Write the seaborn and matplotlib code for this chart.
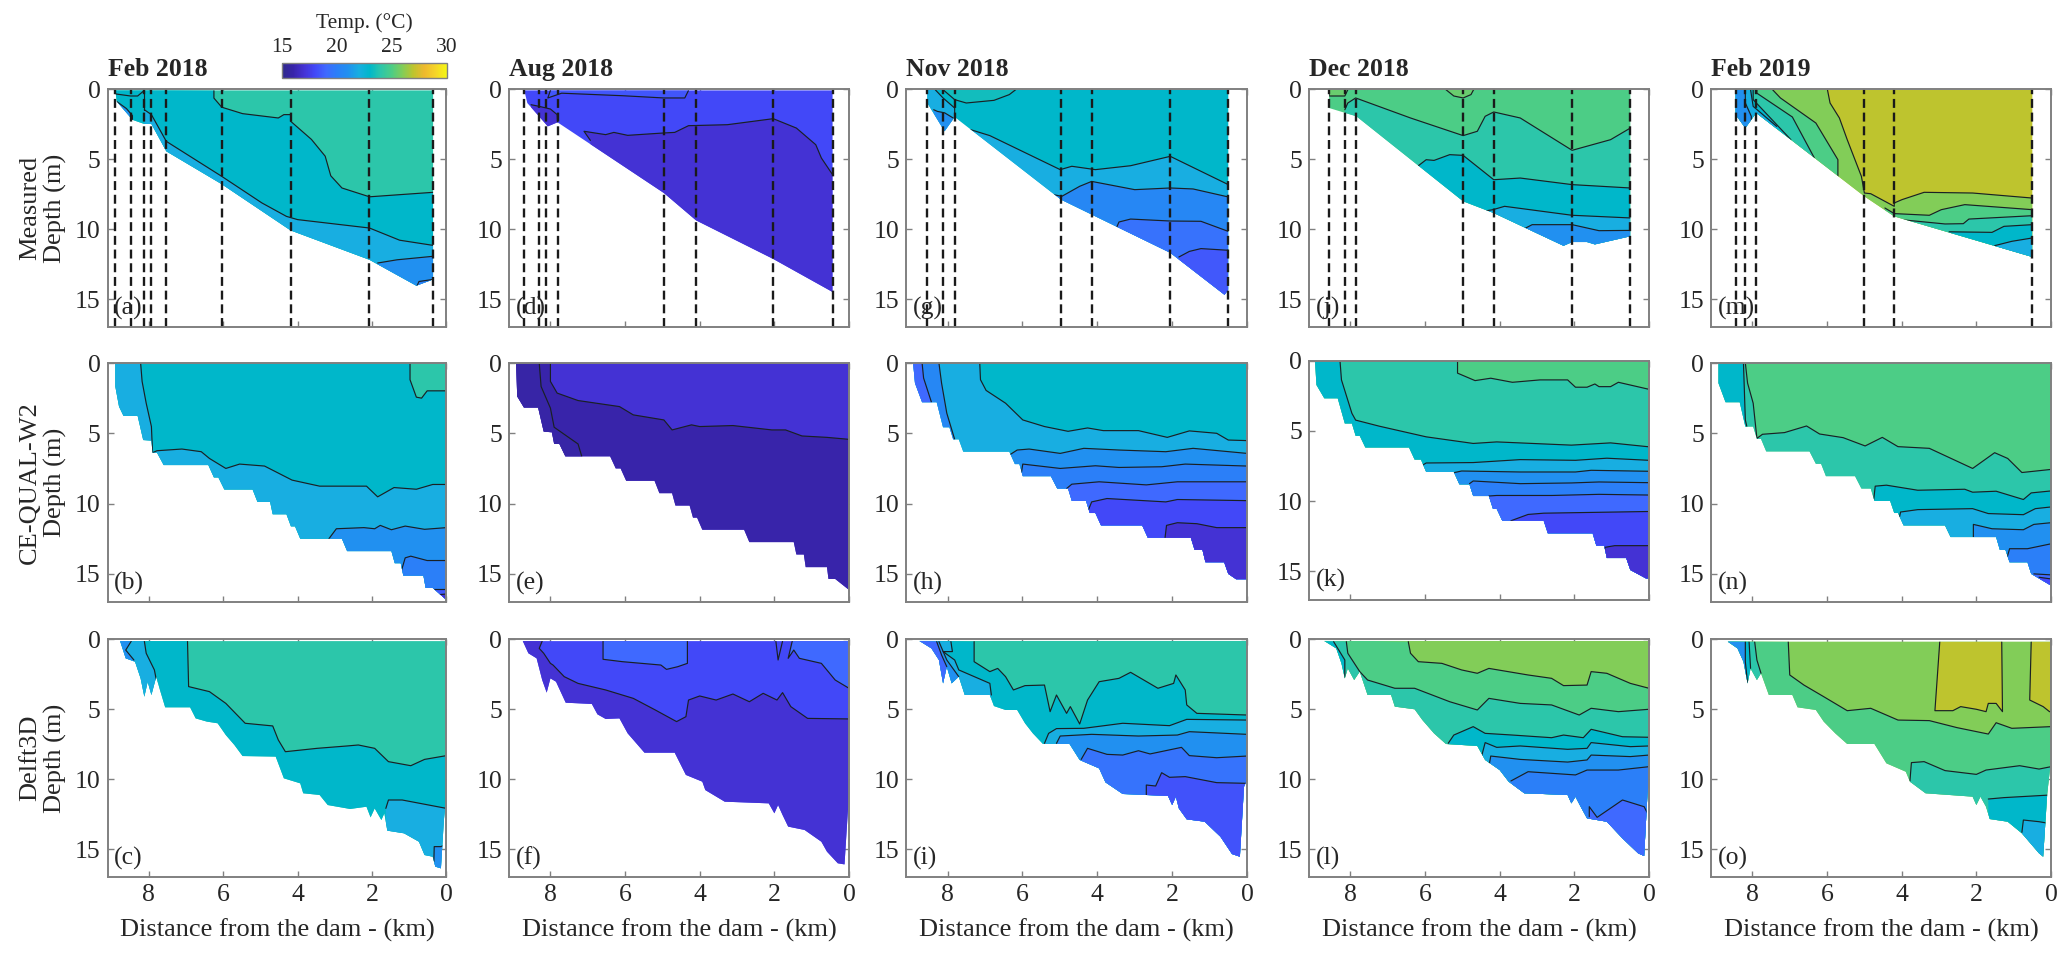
import matplotlib
matplotlib.use('Agg')
import matplotlib.pyplot as plt
import matplotlib.patches as mpatches
import matplotlib.colors as colors
from matplotlib.cm import ScalarMappable
import seaborn as sns

DATES = ['Feb 2018', 'Aug 2018', 'Nov 2018', 'Dec 2018', 'Feb 2019']
MODELS = ['Measured\nDepth (m)', 'CE-QUAL-W2\nDepth (m)', 'Delft3D\nDepth (m)']
LETTERS = ['a', 'b', 'c', 'd', 'e', 'f', 'g', 'h', 'i', 'j', 'k', 'l', 'm', 'n', 'o']
X_TICKS = [8, 6, 4, 2, 0]
Y_TICKS = [0, 5, 10, 15]
CBAR_TICKS = [15, 20, 25, 30]

# colour table of the temperature scale
CMAP_T = [15, 16, 17, 18, 19, 20, 21, 22, 23, 24, 25, 26, 27, 28, 29, 30]
CMAP_C = ['#2f2a8c', '#3824aa', '#4432d4', '#4248f8', '#3f69ff', '#2b7ff8', '#2190f0', '#18aee1',
          '#00b7ca', '#2cc6aa', '#4ccd86', '#82cd58', '#bec42e', '#eeb92e', '#f5d428', '#f5f515']

# sampling stations of the measured sections (km)
ST_A = [8.9, 8.49, 8.12, 7.93, 7.53, 6.04, 4.19, 2.07, 0.36]
ST_D = [8.7, 8.3, 8.12, 7.81, 4.96, 4.1, 2.03, 0.44]
ST_G = [8.54, 8.12, 7.81, 4.97, 4.15, 2.05, 0.5]
ST_J = [8.57, 8.15, 7.84, 4.98, 4.16, 2.06, 0.5]
ST_M = [8.45, 8.19, 7.9, 5.0, 4.2, 0.5]

# bed profile (km, m) and isotherms (temp, [(km, m), ...]) of each panel
BED_A = [(8.9,.1),(8.86,.9),(8.44,2.2),(8.12,2.5),(7.93,2.5),(7.53,4.45),(6.04,6.8),(4.19,10.1),(2.07,12.2),(.81,14.05),(.36,13.6)]
BASE_A = 24
ZONES_A = [
    (23, [(6.25,.1),(6.25,.65),(6.04,1.3),(5.48,1.76),(4.52,2.07),(4.37,1.83),(4.19,1.83),(4.19,2.3),(3.63,3.6),(3.26,4.8),(3.11,6.2),(2.81,7.07),(2.07,7.7),(.36,7.38)]),
    (22, [(8.12,1.48),(7.93,1.83),(7.53,3.74),(6.04,6.24),(4.96,8.14),(4.3,9.1),(4,9.33),(2.07,9.93),(1.26,10.8),(.36,11.17)]),
    (None, [(8.12,.1),(8.12,1.48)]),
    (None, [(8.9,.35),(8.49,.5),(8.3,.5),(8.12,.1)]),
    (21, [(8.86,.9),(8.6,1.4),(8.44,1.9),(8.44,2.2)]),
    (21, [(1.85,12.43),(1.33,12.2),(.36,11.95)]),
    (20, [(.79,14.05),(.74,13.75),(.36,13.6)]),
]

BED_B = [(8.9,0),(8.9,1.67),(8.8,3.1),(8.68,3.76),(8.3,3.76),(8.15,5.48),(7.93,5.52),(7.9,6.38),(7.78,6.38),(7.6,7.26),(6.4,7.26),(6.25,8.14),(6.13,8.14),(5.97,9),(5.21,9),(5.08,9.88),(4.74,9.88),(4.67,10.76),(4.3,10.76),(4.18,11.62),(4.07,11.62),(3.93,12.5),(2.81,12.5),(2.67,13.38),(1.48,13.38),(1.39,14.24),(1.23,14.24),(1.16,15.12),(.62,15.12),(.56,16),(.37,16),(0,16.86)]
BASE_B = 24
ZONES_B = [
    (23, [(.98,0),(.98,1.19),(.81,2.43),(.67,2.5),(.52,1.98),(0,1.98)]),
    (22, [(8.22,0),(8.18,1.31),(8.07,2.86),(7.93,4.52),(7.9,6.38),(7.78,6.24),(7.11,6.12),(6.59,6.31),(6.37,6.79),(5.93,7.5),(5.56,7.19),(4.89,7.33),(4.15,8.33),(3.41,8.76),(2.15,8.76),(1.85,9.52),(1.41,8.86),(.81,8.98),(.37,8.64),(0,8.64)]),
    (21, [(3.16,12.5),(2.96,11.79),(2.22,11.71),(1.93,11.79),(1.78,11.55),(1.48,11.86),(1.11,11.6),(.59,11.83),(0,11.71)]),
    (20, [(1.21,14.76),(1.11,13.86),(.96,13.74),(.52,14.05),(0,14.05)]),
    (18.5, [(.41,16.07),(0,16.07)]),
    (17, [(.22,16.48),(0,16.43)]),
]

BED_C = [(8.77,.15),(8.62,1.38),(8.37,1.62),(8.22,2.81),(8.12,4.12),(8.03,3.05),(7.93,4),(7.8,2.69),(7.7,3.64),(7.56,4.88),(6.89,4.88),(6.74,5.67),(6.44,5.9),(6.15,6.02),(5.93,6.86),(5.7,7.57),(5.48,8.36),(4.59,8.4),(4.37,9.95),(3.93,10.31),(3.85,11.02),(3.41,11.14),(3.19,11.86),(2.59,12.14),(2.15,11.98),(2.04,12.74),(1.93,12.1),(1.75,12.93),(1.67,12.45),(1.59,13.69),(1.14,13.88),(.74,14.48),(.59,15.43),(.37,15.55),(.3,16.26),(.15,16.38),(.07,12.93),(0,11.02)]
BASE_C = 24
ZONES_C = [
    (23, [(6.96,.15),(6.93,3.4),(6.37,3.76),(5.93,4.6),(5.41,6.02),(4.67,6.21),(4.52,7.21),(4.33,8.05),(3.48,7.81),(2.67,7.64),(2.37,7.57),(1.93,7.81),(1.56,8.76),(.96,9.05),(.59,8.6),(0,8.33)]),
    (22, [(8.12,.15),(8.07,1.02),(7.85,2.21),(7.78,3.17)]),
    (22, [(1.63,12.1),(1.56,11.5),(1.19,11.5),(0,12.1)]),
    (21, [(8.47,.15),(8.62,.79),(8.4,1.5)]),
    (21, [(.34,15.9),(.33,14.83),(.15,14.83),(0,14.64)]),
]

BED_D = [(8.7,.1),(8.62,1),(8.07,2.67),(7.81,2.38),(4.96,7.43),(4.1,9.38),(2.03,12.14),(.44,14.5)]
BASE_D = 18
ZONES_D = [
    (18.4, [(8,.1),(8.07,.64),(7.7,.3),(6.07,.48),(4.96,.64),(4.4,.64),(4.3,.1)]),
    (17, [(6.93,3.67),(7.1,3.02),(6.52,3.26),(6.3,3.1),(5.93,3.31),(4.96,3.14),(4.67,3.1),(4.3,2.62),(3.26,2.55),(2.03,2.12),(1.41,2.79),(.89,3.98),(.74,4.93),(.44,6.12)]),
    (17, [(8.52,1.12),(8.3,1.24),(8,1.43),(7.82,1.83),(7.81,2.38)]),
]

BED_E = [(8.92,0),(8.89,2.38),(8.71,3.17),(8.33,3.17),(8.18,4.88),(7.96,4.93),(7.9,5.76),(7.76,5.76),(7.6,6.64),(6.4,6.64),(6.25,7.5),(6.12,7.5),(5.97,8.38),(5.21,8.38),(5.08,9.26),(4.74,9.26),(4.65,10.14),(4.27,10.14),(4.18,11),(4.07,11),(3.93,11.86),(2.81,11.86),(2.67,12.74),(1.48,12.74),(1.41,13.62),(1.21,13.62),(1.16,14.52),(.59,14.52),(.55,15.36),(.37,15.36),(0,16.14)]
BASE_E = 17
ZONES_E = [
    (16, [(8,0),(8,1.31),(7.82,2.14),(7.26,2.67),(6.15,3.1),(5.78,3.69),(4.96,4.05),(4.74,4.76),(4.22,4.4),(4,4.52),(3.11,4.45),(2.07,4.76),(1.7,4.76),(1.26,5.19),(.59,5.29),(0,5.43)]),
    (15.9, [(8.3,0),(8.25,1.67),(8,3.21),(7.9,4.57),(7.26,5.76),(7.16,6.64)]),
]

BED_F = [(8.74,.15),(8.59,1.02),(8.37,1.38),(8.22,2.93),(8.1,3.83),(8,2.81),(7.85,3.05),(7.59,4.55),(6.89,4.64),(6.74,5.38),(6.52,5.71),(6.15,5.67),(5.93,6.74),(5.48,8.12),(4.67,8.12),(4.37,9.71),(3.93,10.19),(3.85,10.79),(3.33,11.62),(2.15,11.74),(2,12.45),(1.9,11.86),(1.78,12.57),(1.63,13.4),(1.19,13.64),(.74,14.48),(.59,15.19),(.3,16.02),(.12,16.1),(0,11.02)]
BASE_F = 18
ZONES_F = [
    (19, [(6.59,.15),(6.59,1.45),(6.07,1.62),(5.04,1.86),(4.89,2.17),(4.59,1.98),(4.33,1.74),(4.33,.15)]),
    (19, [(1.52,.15),(1.63,1.38),(1.48,.79),(1.33,1.38),(.74,1.74),(.37,2.93),(0,3.52),(0,.15)]),
    (None, [(1.96,.15),(1.9,1.5),(1.78,.15)]),
    (17, [(8.22,.15),(8.3,.67),(8.18,1.02),(8,1.74),(7.93,1.86),(7.63,2.69),(7.26,3.17),(6.52,3.64),(5.78,4.24),(5.19,5.07),(4.62,5.9),(4.37,5.55),(4.3,4.36),(4,4.07),(3.56,4.36),(3.11,3.93),(2.67,4.48),(2.3,3.88),(1.93,4.36),(1.78,3.83),(1.56,4.83),(1.11,5.67),(0,5.71)]),
]

BED_G = [(8.54,.05),(8.54,1),(8.08,3.02),(7.81,2),(4.97,7.9),(2.05,11.7),(.6,14.7),(.5,14.33)]
BASE_G = 23
ZONES_G = [
    (23.4, [(8.12,.05),(7.81,.76),(7.5,1),(6.76,.81),(6.35,.4),(6.18,.05)]),
    (22, [(8.33,.05),(8.12,.64),(7.81,1.36),(7.81,2)]),
    (21, [(8.37,1.48),(8.27,1.6),(8.08,1.7),(7.85,2.07)]),
    (22, [(7.39,2.9),(6.87,3.33),(4.99,5.76),(4.68,5.52),(4.05,5.76),(3.11,5.48),(2.05,4.81),(.5,6.83)]),
    (20.5, [(5.16,7.55),(4.95,7.67),(4.47,6.95),(4.15,6.6),(3,7.19),(2.05,7.07),(1.44,7.14),(.5,7.71)]),
    (19.4, [(3.49,9.93),(3.42,9.5),(3.11,9.29),(2.05,9.43),(1.23,9.45),(.5,10.17)]),
    (18.5, [(1.82,12),(1.54,11.6),(1.23,11.4),(.5,11.52)]),
]

BED_H = [(8.92,0),(8.87,1.43),(8.68,2.79),(8.29,2.79),(8.12,4.57),(7.95,4.57),(7.85,5.43),(7.7,5.43),(7.58,6.31),(6.35,6.31),(6.2,7.19),(6.08,7.19),(5.99,8.05),(5.24,8.05),(5.07,8.93),(4.78,8.93),(4.68,9.81),(4.3,9.81),(4.2,10.67),(4.05,10.67),(3.9,11.55),(2.8,11.55),(2.65,12.43),(1.5,12.43),(1.4,13.29),(1.19,13.29),(1.11,14.17),(.61,14.17),(.5,15),(.29,15.38),(0,15.38)]
BASE_H = 23
ZONES_H = [
    (22, [(7.14,0),(7.12,1.19),(6.97,1.95),(6.45,2.86),(5.99,4.05),(5.41,4.52),(4.78,4.86),(4.26,4.62),(3.84,4.81),(2.9,4.81),(2.13,5.29),(1.54,4.83),(.81,5),(.5,5.48),(0,5.52)]),
    (20.5, [(8.23,0),(8.16,1.43),(8.02,3.57),(7.81,5.43)]),
    (19, [(8.68,0),(8.64,1.07),(8.43,2.79)]),
    (21, [(6.35,6.55),(6.14,6.19),(5.82,6.12),(4.99,6.43),(4.36,6.07),(3.42,6.19),(2.17,6.31),(1.44,6.07),(0,6.43)]),
    (20, [(6.03,7.86),(5.99,7.19),(4.99,7.5),(4.05,7.31),(3.42,7.43),(2.28,7.38),(1.65,7.19),(0,7.33)]),
    (19, [(4.82,8.93),(4.68,8.62),(3.95,8.45),(2.69,8.67),(1.86,8.45),(0,8.45)]),
    (18, [(4.26,10.6),(4.15,9.88),(3.74,9.64),(2.17,9.88),(1.86,9.71),(0,9.79)]),
    (17, [(2.19,12.43),(2.15,11.55),(1.86,11.36),(1.34,11.43),(.81,11.71),(0,11.71)]),
]

BED_I = [(8.75,.14),(8.43,.67),(8.23,1.5),(8.12,3.17),(8.02,1.98),(7.89,3.17),(7.7,2.69),(7.54,4),(6.87,4),(6.76,4.79),(6.45,5.07),(6.14,5.07),(5.93,6.02),(5.72,6.74),(5.45,7.5),(4.74,7.5),(4.47,8.64),(3.95,9.24),(3.78,10.24),(3.32,11.07),(2.11,11.21),(2,11.86),(1.9,11.26),(1.82,12.1),(1.61,12.88),(1.13,13.05),(.71,14.12),(.4,15.36),(.19,15.55),(.08,10.55),(0,10.07)]
BASE_I = 24
ZONES_I = [
    (23, [(7.29,.19),(7.29,1.62),(6.87,2.33),(6.66,2.1),(6.45,2.69),(6.24,3.64),(5.93,3.33),(5.41,3.29),(5.26,5.19),(5.09,4),(4.82,5.31),(4.72,4.83),(4.47,6.07),(4.26,4.36),(3.95,3.05),(3.42,2.81),(3.11,2.38),(2.38,3.52),(1.96,3.17),(1.9,2.57),(1.65,3.64),(1.61,4.71),(1.34,5.31),(0,5.43)]),
    (22, [(7.91,.19),(7.87,.9),(8.12,.9),(7.81,1.5),(7.7,2.21),(6.87,3.17),(6.83,4)]),
    (21, [(8.23,.19),(8.02,1.5),(7.7,2.69)]),
    (19, [(8.29,.19),(8.16,1.14),(8.02,1.98)]),
    (22, [(5.41,7.45),(5.3,6.74),(5.09,6.4),(4.36,6.38),(3.32,6.02),(2.07,6.19),(1.61,5.74),(0,5.79)]),
    (21, [(5.09,7.45),(4.99,6.93),(4.15,6.81),(2.9,6.93),(1.86,6.86),(1.54,6.62),(0,6.81)]),
    (19.5, [(4.43,8.6),(4.26,7.81),(3.74,8.24),(3.32,8.29),(2.9,7.98),(2.59,8.21),(1.75,7.74),(1.54,8.33),(.81,8.48),(0,8.36)]),
    (18.3, [(2.69,11.14),(2.69,10.43),(2.44,10.5),(2.28,9.55),(2.07,9.88),(1.65,9.83),(.81,10.26),(0,10.31)]),
]

BED_J = [(8.57,.05),(8.57,1.36),(7.84,1.95),(4.98,8.02),(4.16,8.86),(2.29,11.2),(2.06,10.93),(1.66,10.93),(1.45,11.1),(.5,10.52)]
BASE_J = 25
ZONES_J = [
    (25.5, [(8.57,.05),(8.57,.5),(8.15,.5),(8.07,.05)]),
    (25.5, [(5.44,.05),(5.23,.5),(4.98,.64),(4.77,.4),(4.7,.05)]),
    (24, [(8.15,1.48),(8.07,1),(7.86,.64),(6.39,2.07),(4.98,3.33),(4.6,3.02),(4.39,1.95),(4.16,1.64),(3.45,2.07),(2.06,4.38),(1.03,3.62),(.5,2.79)]),
    (23, [(6.18,5.48),(5.97,5.05),(5.76,5.1),(5.34,4.69),(4.98,4.74),(4.16,6.48),(3.45,6.36),(2.06,6.83),(.5,7.07)]),
    (22, [(4.45,8.74),(4.18,8.62),(3.87,8.38),(2.06,9.02),(.5,9.21)]),
    (21, [(3.34,9.98),(3.13,9.69),(2.06,9.69),(1.34,10.12),(.5,10.1)]),
]

BED_K = [(8.95,0),(8.91,1.74),(8.7,2.69),(8.34,2.69),(8.15,4.48),(7.96,4.48),(7.86,5.36),(7.75,5.36),(7.6,6.19),(6.43,6.19),(6.28,7.05),(6.11,7.05),(5.97,7.93),(5.23,7.93),(5.08,8.81),(4.81,8.81),(4.71,9.64),(4.29,9.64),(4.18,10.55),(4.08,10.55),(3.93,11.4),(2.82,11.4),(2.71,12.29),(1.51,12.29),(1.41,13.17),(1.2,13.17),(1.13,14.05),(.61,14.05),(.5,14.9),(.08,15.5),(0,15.5)]
BASE_K = 25
ZONES_K = [
    (24, [(5.13,0),(5.13,.9),(4.66,1.43),(4.24,1.26),(3.66,1.55),(2.92,1.38),(2.18,1.38),(1.97,1.9),(1.66,1.9),(1.45,1.67),(1.34,1.86),(1.03,1.86),(.82,1.55),(0,2.05)]),
    (23, [(8.28,0),(8.24,1.38),(7.96,3.76),(7.86,4.24),(7.23,4.67),(5.97,5.43),(4.71,5.9),(4.08,5.79),(2.08,6.02),(1.03,5.86),(0,6.14)]),
    (22, [(6.07,7.45),(5.97,7.29),(4.71,7.26),(3.45,7.05),(1.97,7.1),(1.13,6.95),(0,7.1)]),
    (21, [(5.23,7.98),(5.02,7.86),(3.45,7.93),(1.97,7.93),(1.55,7.81),(0,7.88)]),
    (20, [(4.81,8.76),(4.71,8.57),(3.45,8.76),(2.08,8.71),(1.34,8.64),(0,8.69)]),
    (19, [(4.29,9.64),(4.08,9.6),(2.6,9.6),(1.34,9.52),(0,9.57)]),
    (18, [(3.7,11.4),(3.24,10.95),(2.82,10.86),(0,10.74)]),
    (17, [(1.22,14),(1.18,13.29),(.92,13.17),(0,13.17)]),
]

BED_L = [(8.7,.14),(8.38,.67),(8.24,1.74),(8.15,2.81),(8.07,2.1),(7.9,2.93),(7.75,2.33),(7.54,4),(6.91,4),(6.81,4.83),(6.28,5.02),(6.07,5.79),(5.76,6.74),(5.44,7.5),(4.6,7.64),(4.39,8.64),(4,9.36),(3.76,10.19),(3.34,11.02),(2.18,11.14),(2.08,11.74),(1.97,11.26),(1.83,11.98),(1.66,12.81),(1.13,13.05),(.71,14.24),(.29,15.31),(.13,15.5),(.04,11.02),(0,10.07)]
BASE_L = 26
ZONES_L = [
    (25, [(6.45,.19),(6.39,1.02),(6.18,1.62),(5.55,1.74),(5.02,2.21),(4.6,2.45),(4.29,2.1),(3.24,2.57),(2.61,2.81),(2.29,3.33),(1.66,3.29),(1.55,2.33),(1.13,2.45),(.5,3.17),(0,3.52)]),
    (24, [(8.11,.19),(8.07,1.02),(7.75,2.33),(7.54,2.93),(6.81,3.52),(6.28,3.52),(5.34,4.48),(4.6,5.07),(4.29,4.24),(3.45,4.6),(2.61,4.71),(1.87,5.43),(1.55,4.95),(.82,5.19),(0,5.02)]),
    (23, [(8.45,.19),(8.15,1.5),(8.15,2.81)]),
    (23, [(5.38,7.45),(5.23,6.86),(4.71,6.26),(4.39,6.74),(3.66,6.86),(2.61,7.05),(2.29,6.86),(1.76,7.05),(1.55,6.45),(.71,6.98),(0,7.02)]),
    (22, [(4.5,8.52),(4.39,7.4),(4.08,7.74),(3.45,7.64),(2.18,7.88),(1.66,7.81),(1.55,7.4),(.5,7.69),(0,7.64)]),
    (21, [(4.29,9.12),(4.24,8.36),(3.45,8.6),(2.18,8.79),(1.66,8.64),(1.55,8.29),(.5,8.4),(0,8.29)]),
    (20, [(3.7,10.14),(3.24,9.48),(1.97,9.71),(1.66,9.36),(.82,9.36),(0,9.12)]),
    (19, [(1.6,12.69),(1.6,11.98),(1.39,12.74),(.71,11.5),(.13,11.98),(.04,12.45)]),
]

BED_M = [(8.45,.05),(8.45,1.83),(8.19,2.79),(7.9,1.71),(5,7.67),(4.2,9.1),(.5,12)]
BASE_M = 27
ZONES_M = [
    (26, [(5.99,.05),(5.92,1),(5.67,2.07),(5.46,3.62),(5.08,6.24),(5,7.43),(4.83,7.48),(4.2,8.38),(4.2,8.14),(3.99,7.9),(3.4,7.38),(2.1,7.43),(.5,7.79)]),
    (25, [(7.46,.05),(7.25,.64),(6.3,2.43),(5.71,5.05),(5.71,6.24)]),
    (25, [(4.45,8.5),(4.2,8.9),(3.26,9.02),(2.94,8.62),(2.31,8.26),(.5,8.62)]),
    (24, [(7.88,.05),(7.88,.3),(6.93,2),(6.34,4.93)]),
    (24, [(4.03,9.33),(2.84,9.64),(2.35,9.62),(2.2,9.29),(.5,9.05)]),
    (23, [(7.98,.05),(7.98,.76),(6.97,3.62)]),
    (23, [(2.73,10.2),(1.58,10.24),(1.26,9.81),(.5,9.69)]),
    (22, [(8.05,.05),(7.98,1.24),(7.35,2.67)]),
    (22, [(1.51,11.19),(1.05,10.88),(.5,10.64)]),
    (21, [(8.19,.05),(8.19,1),(8.03,1.95),(8.03,2.4)]),
]

BED_N = [(8.91,0),(8.91,1.43),(8.72,2.79),(8.34,2.79),(8.19,4.52),(7.98,4.52),(7.88,5.4),(7.77,5.4),(7.63,6.29),(6.47,6.29),(6.3,7.17),(6.16,7.17),(6.03,8.05),(5.25,8.05),(5.08,8.93),(4.83,8.93),(4.73,9.81),(4.31,9.81),(4.2,10.67),(4.1,10.67),(3.95,11.55),(2.84,11.55),(2.69,12.38),(1.47,12.38),(1.37,13.29),(1.22,13.29),(1.11,14.17),(.63,14.17),(.53,15),(0,15.83)]
BASE_N = 25
ZONES_N = [
    (24, [(8.19,0),(8.13,1.43),(7.98,2.86),(7.88,5.36),(7.73,5.07),(7.14,4.95),(6.55,4.48),(6.2,5.05),(5.57,5.31),(4.98,5.9),(4.52,5.29),(4.1,5.95),(3.26,6.07),(2.1,7.5),(1.51,6.38),(1.16,6.79),(.78,7.79),(0,7.57)]),
    (23, [(8.24,0),(8.19,4.05),(8.15,4.52)]),
    (23, [(4.75,9.71),(4.71,8.76),(4.41,8.69),(3.57,9.05),(2.31,8.98),(2.1,9.19),(1.47,9.12),(.74,9.71),(.53,9.24),(0,9.1)]),
    (22, [(4.1,11.43),(4.03,10.6),(3.57,10.43),(2.1,10.36),(1.68,10.71),(.74,10.79),(.42,10.36),(0,10.24)]),
    (21, [(2.08,12.38),(2.08,11.48),(1.58,11.79),(.74,11.86),(.46,11.48),(0,11.36)]),
    (20, [(1.2,14.05),(1.11,13.21),(.63,13.21),(0,12.86)]),
    (19, [(.46,15),(0,15.07)]),
    (18, [(.32,15.24),(0,15.36)]),
]

BED_O = [(8.66,.19),(8.4,.67),(8.24,1.62),(8.13,3.17),(8.05,2.1),(7.88,2.93),(7.77,2.45),(7.56,4),(6.93,4),(6.79,4.88),(6.3,5.07),(6.09,5.9),(5.78,6.74),(5.46,7.5),(4.73,7.5),(4.41,8.88),(3.89,9.48),(3.78,10.19),(3.36,11.02),(2.1,11.26),(2,11.86),(1.89,11.26),(1.74,11.98),(1.64,12.86),(1.16,13.05),(.78,13.88),(.32,15.31),(.21,15.55),(.1,11.02),(0,8.64)]
BASE_O = 26
ZONES_O = [
    (27, [(2.98,.19),(3.11,5.12),(2.63,5.12),(2.42,4.83),(2,5.02),(1.74,5.19),(1.68,4.6),(1.47,4.6),(1.3,5.19),(1.32,.19)]),
    (27, [(.53,.19),(.57,4.36),(.21,4.83),(.04,5.19),(0,5.19),(0,.19)]),
    (25, [(7.04,.19),(7,2.57),(6.62,3.29),(6.09,4.12),(5.46,5.12),(4.83,4.95),(4.1,5.79),(3.26,5.83),(2.52,6.33),(1.68,6.79),(1.47,5.98),(1.05,6.38),(0,6.26)]),
    (24, [(7.94,.19),(7.88,1.5),(7.77,2.45)]),
    (24, [(3.78,10.14),(3.74,8.83),(3.4,8.76),(2.84,9.4),(2,9.67),(1.74,9.36),(.84,9.05),(.32,9.29),(0,9.12)]),
    (23, [(8.09,.19),(8.05,2.1)]),
    (23, [(1.68,11.43),(1.26,11.33),(0,11.14)]),
    (22, [(.78,13.81),(.74,12.93),(.32,13.05),(.06,13.17)]),
    (21, [(8.19,.19),(8.19,1.62),(8.13,3.17)]),
]

BEDS = [BED_A, BED_B, BED_C, BED_D, BED_E, BED_F, BED_G, BED_H, BED_I, BED_J, BED_K, BED_L, BED_M, BED_N, BED_O]
BASES = [BASE_A, BASE_B, BASE_C, BASE_D, BASE_E, BASE_F, BASE_G, BASE_H, BASE_I, BASE_J, BASE_K, BASE_L, BASE_M, BASE_N, BASE_O]
ZONES = [ZONES_A, ZONES_B, ZONES_C, ZONES_D, ZONES_E, ZONES_F, ZONES_G, ZONES_H, ZONES_I, ZONES_J, ZONES_K, ZONES_L, ZONES_M, ZONES_N, ZONES_O]
STATIONS = [ST_A, ST_D, ST_G, ST_J, ST_M]

# axes boxes in pixels of the 2067x956 picture
W, H = 2067, 956
COL_PX = [(107.5, 446.5), (509, 849), (906, 1247), (1309, 1649), (1711, 2051)]
ROW_PX = [(89, 327), (363, 602), (639, 877)]
XMAX = 9.11
YMAX = 17
GRAY = '#808080'
SURF = 0.2

sns.set_theme(style='ticks')
plt.rcParams['font.family'] = ['Liberation Serif', 'DejaVu Serif']
plt.rcParams['mathtext.fontset'] = 'stix'

norm = colors.Normalize(15, 30)
cmap = colors.LinearSegmentedColormap.from_list('temp', [((t - 15) / 15, c) for t, c in zip(CMAP_T, CMAP_C)])


def px_axes(fig, left, right, top, bottom):
    return fig.add_axes([left / W, 1 - bottom / H, (right - left) / W, (bottom - top) / H])


def draw_panel(ax, bed, base, zones):
    top = bed[0][1]
    outline = [(bed[0][0], top)] + bed + [(bed[-1][0], top)]
    water = mpatches.Polygon(outline, closed=True, fc=cmap(norm(base)), ec='none', zorder=1)
    ax.add_patch(water)
    z = 1.1
    for temp, pts in zones:
        x0, d0 = pts[0]
        x1, d1 = pts[-1]
        if temp is not None:
            if d0 <= SURF and d1 <= SURF:
                region = pts
            elif d0 <= SURF:
                region = pts + [(x1, YMAX + 1), (XMAX + 1, YMAX + 1), (XMAX + 1, 0)]
            else:
                region = pts + [(x1, YMAX + 1), (x0, YMAX + 1)]
            patch = mpatches.Polygon(region, closed=True, fc=cmap(norm(temp)), ec='none', zorder=z)
            ax.add_patch(patch)
            patch.set_clip_path(water)
        n = len(ax.lines)
        sns.lineplot(x=[p[0] for p in pts], y=[p[1] for p in pts], sort=False, estimator=None,
                     color='#1a2024', lw=0.85, ax=ax, legend=False, zorder=5)
        ax.lines[n].set_clip_path(water)
        z += 0.01


fig = plt.figure(figsize=(W / 100, H / 100), dpi=100)

for c, (left, right) in enumerate(COL_PX):
    for r, (top, bottom) in enumerate(ROW_PX):
        k = c * 3 + r
        shift = -2.5 if k == 10 else 0
        ax = px_axes(fig, left, right, top + shift, bottom + shift)
        draw_panel(ax, BEDS[k], BASES[k], ZONES[k])
        ax.set_xlim(XMAX, 0)
        ax.set_ylim(YMAX, 0)
        ax.set_xticks(X_TICKS)
        ax.set_yticks(Y_TICKS)
        ax.set_xlabel('')
        ax.set_ylabel('')
        ax.tick_params(direction='in', length=4, width=1, color=GRAY, top=True, right=True,
                       labelsize=18.5, pad=5, labelbottom=r == 2)
        for s in ax.spines.values():
            s.set_color(GRAY)
            s.set_linewidth(1.4)
            s.set_zorder(10)
        if r == 0:
            for st in STATIONS[c]:
                ax.axvline(st, color='k', lw=1.7, ls=(0, (3.8, 2.0)), zorder=6)
            ax.text(0, 1.035, DATES[c], transform=ax.transAxes, fontsize=18.5, fontweight='bold',
                    ha='left', va='bottom')
        if r == 2:
            ax.set_xlabel('Distance from the dam - (km)', fontsize=19, labelpad=9)
        ax.text(8.93, 15.65, '(' + LETTERS[k] + ')', fontsize=18.5, ha='left', va='center', zorder=7)

for r, (top, bottom) in enumerate(ROW_PX):
    fig.text(43 / W, 1 - (top + bottom) / 2 / H, MODELS[r], rotation=90, ha='center', va='center',
             fontsize=19, linespacing=1.15)

cax = px_axes(fig, 282, 446.5, 63, 78)
sm = ScalarMappable(norm=norm, cmap=cmap)
cb = fig.colorbar(sm, cax=cax, orientation='horizontal', ticks=CBAR_TICKS)
cb.ax.xaxis.set_ticks_position('top')
cb.ax.tick_params(labelsize=15.5, length=0, pad=4)
cb.outline.set_edgecolor(GRAY)
cb.outline.set_linewidth(1)
cb.ax.set_title('Temp. (°C)', fontsize=15.5, pad=25)

fig.savefig('out.png', dpi=100)
